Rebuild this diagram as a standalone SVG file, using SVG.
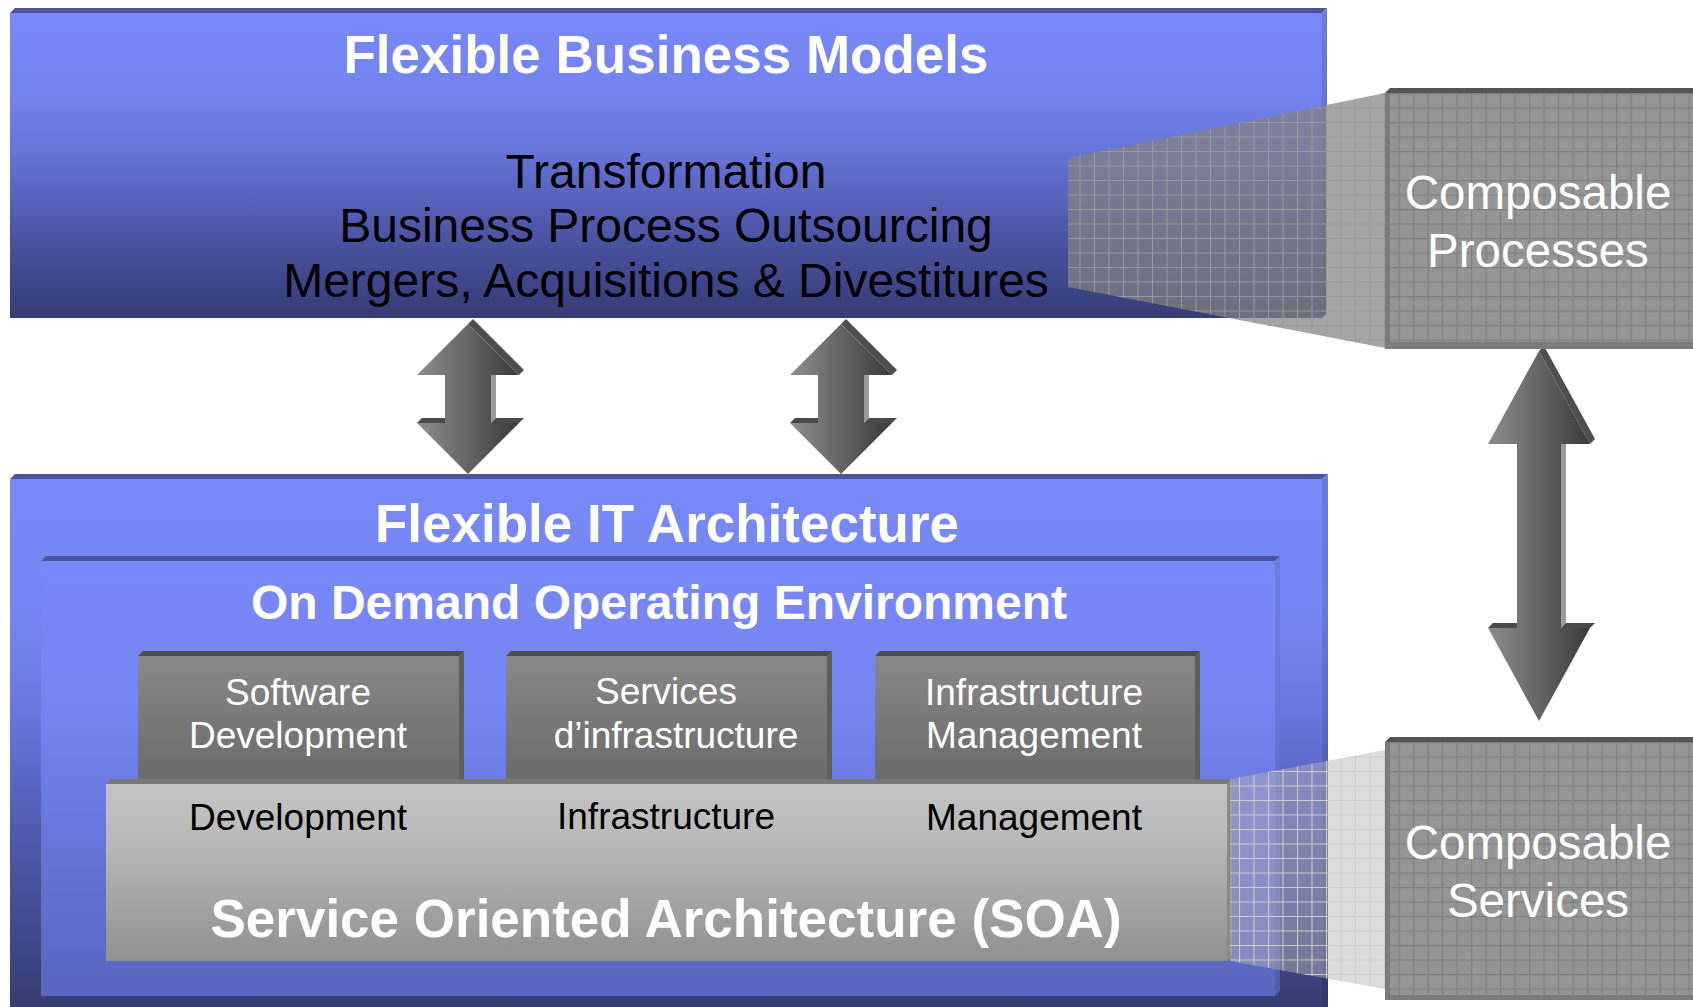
<svg xmlns="http://www.w3.org/2000/svg" width="1693" height="1007" viewBox="0 0 1693 1007">
<defs>
  <linearGradient id="topGrad" gradientUnits="userSpaceOnUse" x1="0" y1="13" x2="0" y2="318">
    <stop offset="0" stop-color="#7889f8"/>
    <stop offset="0.25" stop-color="#7383f0"/>
    <stop offset="0.45" stop-color="#6775d8"/>
    <stop offset="0.61" stop-color="#5762bb"/>
    <stop offset="0.78" stop-color="#474f9b"/>
    <stop offset="0.94" stop-color="#3a4180"/>
    <stop offset="1" stop-color="#363d72"/>
  </linearGradient>
  <linearGradient id="outerGrad" gradientUnits="userSpaceOnUse" x1="0" y1="479" x2="0" y2="1007">
    <stop offset="0" stop-color="#7788f7"/>
    <stop offset="0.23" stop-color="#7587f5"/>
    <stop offset="0.42" stop-color="#6b7ae2"/>
    <stop offset="0.61" stop-color="#5661ba"/>
    <stop offset="0.80" stop-color="#464e98"/>
    <stop offset="1" stop-color="#363d72"/>
  </linearGradient>
  <linearGradient id="innerGrad" gradientUnits="userSpaceOnUse" x1="0" y1="561" x2="0" y2="996">
    <stop offset="0" stop-color="#7788f7"/>
    <stop offset="0.32" stop-color="#7586f3"/>
    <stop offset="0.55" stop-color="#6b7ae0"/>
    <stop offset="0.78" stop-color="#6170ce"/>
    <stop offset="1" stop-color="#5a66be"/>
  </linearGradient>
  <linearGradient id="grayGrad" gradientUnits="userSpaceOnUse" x1="0" y1="656" x2="0" y2="780">
    <stop offset="0" stop-color="#888888"/>
    <stop offset="1" stop-color="#6b6b6b"/>
  </linearGradient>
  <linearGradient id="soaGrad" gradientUnits="userSpaceOnUse" x1="0" y1="784" x2="0" y2="961">
    <stop offset="0" stop-color="#c3c3c3"/>
    <stop offset="0.3" stop-color="#bababa"/>
    <stop offset="1" stop-color="#909090"/>
  </linearGradient>
  <linearGradient id="arrowGrad" x1="0" y1="0" x2="1" y2="0">
    <stop offset="0" stop-color="#8e8e8e"/>
    <stop offset="1" stop-color="#3a3a3a"/>
  </linearGradient>
  <pattern id="gridP" patternUnits="userSpaceOnUse" x="1384" y="93" width="14.5" height="14.5">
    <rect width="14.5" height="14.5" fill="#959595"/>
    <path d="M0 0.6H14.5M0.6 0V14.5" stroke="#7f7f7f" stroke-width="1.2" fill="none"/>
  </pattern>
  <pattern id="gridS" patternUnits="userSpaceOnUse" x="1384" y="742" width="14.5" height="14.5">
    <rect width="14.5" height="14.5" fill="#959595"/>
    <path d="M0 0.6H14.5M0.6 0V14.5" stroke="#7f7f7f" stroke-width="1.2" fill="none"/>
  </pattern>
  <pattern id="trapGrid1" patternUnits="userSpaceOnUse" x="1384" y="93" width="14.5" height="14.5">
    <path d="M0 0.5H14.5M0.5 0V14.5" stroke="#9a9a9a" stroke-width="1" fill="none"/>
  </pattern>
  <pattern id="trapGrid2" patternUnits="userSpaceOnUse" x="1384" y="742" width="14.5" height="14.5">
    <path d="M0 0.5H14.5M0.5 0V14.5" stroke="#cdcdcd" stroke-width="1" fill="none"/>
  </pattern>
  <g id="smallArrow">
    <polygon points="0,0 51,51 56,46 5,-5" fill="#4e4e4e"/>
    <polygon points="23,51 23,99 28,94 28,46" fill="#9a9a9a"/>
    <polygon points="23,99 51,99 56,94 28,94" fill="#4a4a4a"/>
    <polygon points="-51,99 -23,99 -18,94 -46,94" fill="#4a4a4a"/>
    <polygon points="0,0 51,51 23,51 23,99 51,99 0,150 -51,99 -23,99 -23,51 -51,51" fill="url(#arrowGrad)"/>
  </g>
</defs>
<style>
  text { font-family: "Liberation Sans", Arial, Helvetica, sans-serif; text-anchor: middle; }
  .title { font-weight: bold; font-size: 53px; fill: #ffffff; }
  .sub { font-weight: bold; font-size: 48px; fill: #ffffff; }
  .body { font-size: 48px; fill: #000000; }
  .box { font-size: 37px; fill: #ffffff; }
  .lay { font-size: 37px; fill: #000000; }
  .comp { font-size: 47.5px; fill: #ffffff; }
  .topface { fill: #4b549c; }
  .grayface { fill: #4d4d4d; }
  .grayside { fill: #5e5e5e; }
</style>

<rect width="1693" height="1007" fill="#ffffff"/>

<g id="flexible-it-architecture">
  <polygon class="topface" points="15,474 1328,474 1322,479 10,479"/>
  <rect x="10" y="479" width="1312" height="528" fill="url(#outerGrad)"/>
  <polygon points="1322,479 1328,474 1328,1007 1322,1007" fill="url(#outerGrad)"/>
  <polygon points="1322,479 1328,474 1328,1007 1322,1007" fill="#000" opacity="0.1"/>
  <text class="title" x="667" y="542">Flexible IT Architecture</text>
</g>

<g id="on-demand-operating-environment">
  <polygon class="topface" points="46,556 1280,556 1275,561 41,561"/>
  <rect x="41" y="561" width="1234" height="435" fill="url(#innerGrad)"/>
  <polygon points="1275,561 1280,556 1280,991 1275,996" fill="url(#innerGrad)"/>
  <polygon points="1275,561 1280,556 1280,991 1275,996" fill="#000" opacity="0.1"/>
  <text class="sub" x="659" y="619">On Demand Operating Environment</text>
</g>

<g id="software-development">
  <polygon class="grayface" points="143,651 464,651 459,656 138,656"/>
  <rect x="138" y="656" width="321" height="124" fill="url(#grayGrad)"/>
  <polygon class="grayside" points="459,656 464,651 464,780 459,780"/>
  <text class="box" x="298" y="705">Software</text>
  <text class="box" x="298" y="748">Development</text>
</g>

<g id="services-infrastructure">
  <polygon class="grayface" points="511,651 832,651 827,656 506,656"/>
  <rect x="506" y="656" width="321" height="124" fill="url(#grayGrad)"/>
  <polygon class="grayside" points="827,656 832,651 832,780 827,780"/>
  <text class="box" x="666" y="704">Services</text>
  <text class="box" x="676" y="748">d’infrastructure</text>
</g>

<g id="infrastructure-management">
  <polygon class="grayface" points="880,651 1200,651 1195,656 875,656"/>
  <rect x="875" y="656" width="320" height="124" fill="url(#grayGrad)"/>
  <polygon class="grayside" points="1195,656 1200,651 1200,780 1195,780"/>
  <text class="box" x="1034" y="705">Infrastructure</text>
  <text class="box" x="1034" y="748">Management</text>
</g>

<g id="soa">
  <polygon points="111,779 1232,779 1227,784 106,784" fill="#787878"/>
  <rect x="106" y="784" width="1121" height="177" fill="url(#soaGrad)"/>
  <polygon points="1227,784 1232,779 1232,956 1227,961" fill="#8a8a8a"/>
  <text class="lay" x="298" y="830">Development</text>
  <text class="lay" x="666" y="829">Infrastructure</text>
  <text class="lay" x="1034" y="830">Management</text>
  <text class="title" x="666" y="937">Service Oriented Architecture (SOA)</text>
</g>

<g id="flexible-business-models">
  <polygon class="topface" points="15,8 1327,8 1322,13 10,13"/>
  <rect x="10" y="13" width="1312" height="305" fill="url(#topGrad)"/>
  <polygon points="1322,13 1327,8 1327,313 1322,318" fill="url(#topGrad)"/>
  <polygon points="1322,13 1327,8 1327,313 1322,318" fill="#000" opacity="0.1"/>
  <text class="title" x="666" y="73">Flexible Business Models</text>
  <text class="body" x="666" y="188">Transformation</text>
  <text class="body" x="666" y="242">Business Process Outsourcing</text>
  <text class="body" x="666" y="297">Mergers, Acquisitions &amp; Divestitures</text>
</g>

<g id="connectors">
  <polygon points="1068,158 1385,93 1385,348 1068,287" fill="#828282" fill-opacity="0.72"/>
  <polygon points="1068,158 1385,93 1385,348 1068,287" fill="url(#trapGrid1)"/>
  <polygon points="1230,779 1385,750 1385,989 1230,961" fill="#b5b5b5" fill-opacity="0.47"/>
  <polygon points="1230,779 1385,750 1385,989 1230,961" fill="url(#trapGrid2)"/>
  <use href="#smallArrow" transform="translate(468,324)"/>
  <use href="#smallArrow" transform="translate(841,324)"/>
  <g transform="translate(1539,351)">
    <polygon points="0,0 51,93 56,88 5,-5" fill="#4e4e4e"/>
    <polygon points="22,93 22,277 27,272 27,88" fill="#9a9a9a"/>
    <polygon points="22,277 51,277 56,272 27,272" fill="#4a4a4a"/>
    <polygon points="-51,277 -22,277 -17,272 -46,272" fill="#4a4a4a"/>
    <polygon points="0,0 51,93 22,93 22,277 51,277 0,370 -51,277 -22,277 -22,93 -51,93" fill="url(#arrowGrad)"/>
  </g>
</g>

<g id="composable-processes">
  <polygon points="1390,88 1693,88 1693,93 1385,93" fill="#555555"/>
  <rect x="1385" y="93" width="308" height="256" fill="#7b7b7b"/>
  <rect x="1390" y="93" width="303" height="249" fill="url(#gridP)"/>
  <text class="comp" x="1538" y="209">Composable</text>
  <text class="comp" x="1538" y="267">Processes</text>
</g>

<g id="composable-services">
  <polygon points="1390,737 1693,737 1693,742 1385,742" fill="#555555"/>
  <rect x="1385" y="742" width="308" height="258" fill="#7b7b7b"/>
  <rect x="1390" y="742" width="303" height="253" fill="url(#gridS)"/>
  <text class="comp" x="1538" y="859">Composable</text>
  <text class="comp" x="1538" y="917">Services</text>
</g>
</svg>
